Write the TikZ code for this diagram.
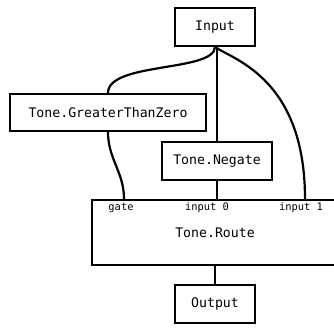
\documentclass[tikz,border=0pt]{standalone}
\usepackage{fontspec}
\setmonofont{DejaVu Sans Mono}
\begin{document}
\begin{tikzpicture}[x=1pt,y=-1pt,
    box/.style={draw, line width=2.2pt, inner sep=0pt, font=\ttfamily\fontsize{13.2}{16}\selectfont},
    port/.style={inner sep=0pt, font=\ttfamily\fontsize{10.4}{12}\selectfont},
    wire/.style={line width=2.2pt}]

    \useasboundingbox (0,0) rectangle (334,327);

    \node[box, minimum width=80pt, minimum height=38pt] (input) at (215,27) {Input};
    \node[box, minimum width=196pt, minimum height=37pt] (gtz) at (108,112.5) {Tone.GreaterThanZero};
    \node[box, minimum width=110pt, minimum height=38pt] (negate) at (217,161) {Tone.Negate};
    \node[box, minimum width=246pt, minimum height=65pt] (route) at (215,232.5) {};
    \node[box, minimum width=80pt, minimum height=38pt] (output) at (215,304) {Output};

    \node[box, draw=none] (routelabel) at (215,233) {Tone.Route};
    \node[port] (gatelabel) at (121,208) {gate};
    \node[port] (in0label) at (207,208) {input 0};
    \node[port] (in1label) at (301,208) {input 1};

    \coordinate (gate) at (124,199);
    \coordinate (in0) at (217,199);
    \coordinate (in1) at (305,199);

    \draw[wire] (input.south) .. controls (214,72) and (108,62) .. (gtz.north);
    \draw[wire] (input.south -| negate.north) -- (negate.north);
    \draw[wire] (input.south) .. controls (235,60) and (305,80) .. (in1);
    \draw[wire] (gtz.south) to[out=-90,in=90] (gate);
    \draw[wire] (negate.south) -- (in0);
    \draw[wire] (route.south) -- (output.north);

\end{tikzpicture}
\end{document}
